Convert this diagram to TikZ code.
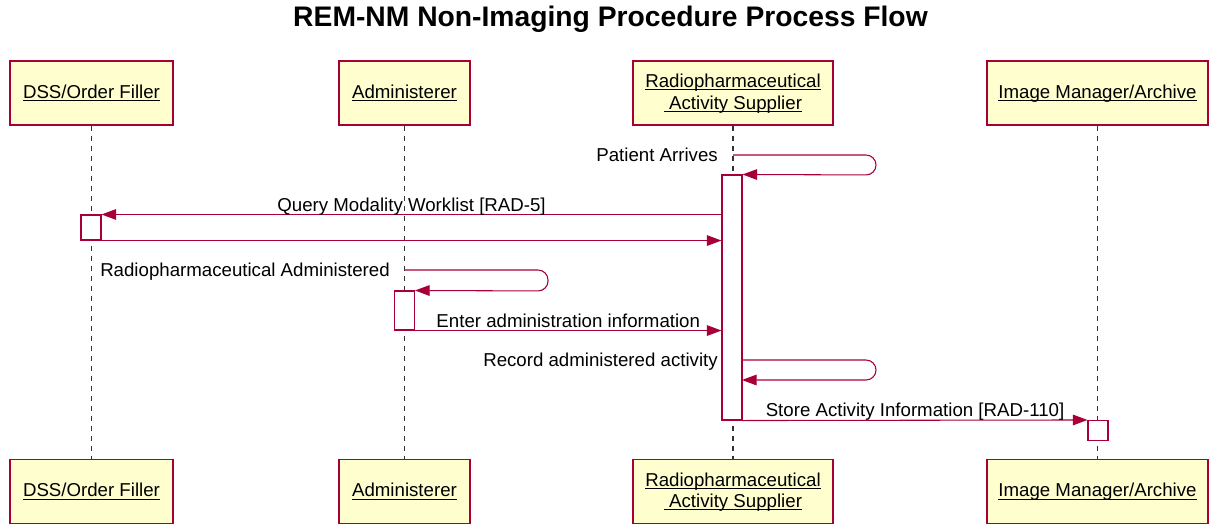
\documentclass[tikz,border=0pt]{standalone}
\usepackage{fontspec}
\setmainfont{Liberation Sans}
\usetikzlibrary{arrows.meta}
\definecolor{umlred}{HTML}{A80036}
\definecolor{umlfill}{HTML}{FEFECE}
\newdimen\px \px=0.75pt
\newcommand\actname[1]{\underline{\raisebox{0pt}[\height][0pt]{#1}}}
\tikzset{
  actor/.style={draw=umlred, fill=umlfill, line width=1.1pt, minimum height=64\px,
    align=center, font=\fontsize{14}{16}\selectfont},
  actbar/.style={draw=umlred, fill=white, line width=0.8pt, minimum width=20\px, inner sep=0pt},
  life/.style={black!80, dash pattern=on 5\px off 5\px, line width=0.8pt},
  msg/.style={umlred, line width=0.8pt, -{Triangle[length=11pt,width=8pt]}},
  lbl/.style={text=black, font=\fontsize{14}{17}\selectfont, inner sep=0pt},
}
\begin{document}
\begin{tikzpicture}[x=0.75pt, y=-0.75pt]
    \useasboundingbox (0,0) rectangle (1209,525);
    \node[font=\bfseries\fontsize{21.2}{25}\selectfont] (title) at (610.5,19) {REM-NM Non-Imaging Procedure Process Flow};
    % participants
    \node[actor, minimum width=163\px] (dsstop) at (91.5,93) {\actname{DSS/Order Filler}};
    \node[actor, minimum width=131\px] (admtop) at (404.5,93) {\actname{Administerer}};
    \node[actor, minimum width=200\px] (rastop) at (733,93) {\actname{Radiopharmaceutical}\\\actname{ Activity Supplier}};
    \node[actor, minimum width=221\px] (imatop) at (1097.5,93) {\actname{Image Manager/Archive}};
    \node[actor, minimum width=163\px] (dssbot) at (91.5,491.5) {\actname{DSS/Order Filler}};
    \node[actor, minimum width=131\px] (admbot) at (404.5,491.5) {\actname{Administerer}};
    \node[actor, minimum width=200\px] (rasbot) at (733,491.5) {\actname{Radiopharmaceutical}\\\actname{ Activity Supplier}};
    \node[actor, minimum width=221\px] (imabot) at (1097.5,491.5) {\actname{Image Manager/Archive}};
    % lifelines
    \draw[life] (dsstop) -- (dssbot);
    \draw[life] (admtop) -- (admbot);
    \draw[life] (rastop) -- (rasbot);
    \draw[life] (imatop) -- (imabot);
    % activations
    \node[actbar, minimum height=25\px] (dssbar) at (91,227.5) {};
    \node[actbar, minimum height=39\px] (admbar) at (404.5,310.5) {};
    \node[actbar, minimum height=245\px] (rasbar) at (732,297.5) {};
    \node[actbar, minimum height=20\px] (imabar) at (1098,430.5) {};
    % messages
    \coordinate (arrive) at (733,155);
    \coordinate (given) at (405,270);
    \coordinate (record) at (742,360);
    \coordinate (recorded) at (742,380);
    \draw[msg, rounded corners=7.5pt] (arrive) -- ++(143,0) -- ++(0,20) -- (rasbar.north east);
    \node[lbl, anchor=base east] (arrivetxt) at (718,161) {Patient Arrives};
    \draw[msg] (rasbar.west |- dssbar.north) -- (dssbar.north east)
      node[lbl, midway, anchor=base, yshift=2.5pt] (querytxt) {Query Modality Worklist [RAD-5]};
    \draw[msg] (dssbar.south east) -- (rasbar.west |- dssbar.south);
    \draw[msg, rounded corners=7.5pt] (given) -- ++(143,0) -- ++(0,21) -- (admbar.north east);
    \node[lbl, anchor=base east] (giventxt) at (390,276) {Radiopharmaceutical Administered};
    \draw[msg] (admbar.south east) -- (rasbar.west |- admbar.south)
      node[lbl, midway, anchor=base, yshift=2.5pt] (entertxt) {Enter administration information};
    \draw[msg, rounded corners=7.5pt] (record) -- ++(134,0) -- ++(0,20) -- (recorded);
    \node[lbl, anchor=base east] (recordtxt) at (718,366) {Record administered activity};
    \draw[msg] (rasbar.south east) -- (imabar.north west)
      node[lbl, midway, anchor=base, yshift=2.5pt] (storetxt) {Store Activity Information [RAD-110]};
\end{tikzpicture}
\end{document}
